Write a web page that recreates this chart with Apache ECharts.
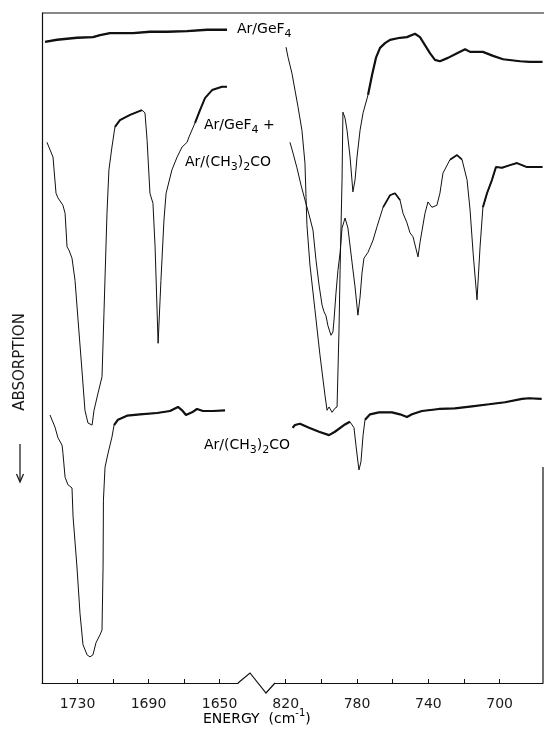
<!DOCTYPE html>
<html><head><meta charset="utf-8">
<script src="https://cdn.jsdelivr.net/npm/echarts@6/dist/echarts.min.js"></script>
<style>html,body{margin:0;padding:0;background:#fff}#c{width:544px;height:729px}</style>
</head><body><div id="c"></div>
<script>
// Wavenumber ticks (cm-1)
const leftTicks = [1730, 1710, 1690, 1670, 1650];
const leftLabels = [1730, 1690, 1650];
const rightTicks = [820, 800, 780, 760, 740, 720, 700];
const rightLabels = [820, 780, 740, 700];

// [wavenumber, signal (arb. units, 0..100)]
const gef4CO = [[1748.3,95.7],[1741.5,96.0],[1730.3,96.3],[1721.3,96.4],[1717.3,96.7],[1711.7,97.0],[1698.7,97.0],[1689.2,97.2],[1679.6,97.2],[1668.3,97.3],[1657.0,97.5],[1645.8,97.5]];

const gef4Low = [[819.8,94.9],[818.7,93.4],[816.5,91.0],[814.8,88.5],[813.1,86.0],[810.9,82.5],[809.2,77.6],[808.6,72.5],[808.1,68.4],[806.4,62.4],[803.6,55.7],[800.8,49.0],[798.0,43.0],[796.8,40.7],[795.7,41.2],[794.0,40.4],[792.4,41.0],[791.2,41.2],[790.1,52.7],[789.5,61.6],[788.4,75.1],[787.9,85.2],[786.7,84.3],[785.6,82.5],[783.9,78.5],[782.3,73.3],[781.1,75.1],[780.0,78.5],[778.3,82.5],[776.6,85.1],[773.8,87.8],[771.6,90.7],[769.4,93.3],[767.1,94.8],[764.3,95.5],[761.5,96.0],[755.9,96.3],[752.0,96.4],[747.5,96.9],[744.7,96.4],[741.9,95.2],[739.1,94.0],[736.3,93.0],[733.5,92.8],[729.0,93.3],[723.9,94.0],[719.4,94.6],[716.6,94.2],[709.4,94.2],[703.7,93.6],[698.1,93.1],[688.6,92.8],[683.0,92.7],[676.0,92.7]];

const mixCO = [[1747.2,80.7],[1743.8,78.5],[1742.1,73.1],[1741.0,72.4],[1738.2,71.3],[1737.0,70.1],[1735.9,65.1],[1734.8,64.6],[1733.1,63.4],[1731.4,60.1],[1729.7,54.2],[1727.5,46.7],[1725.8,40.7],[1724.1,38.8],[1721.8,38.5],[1720.7,40.7],[1718.4,43.3],[1716.2,45.7],[1715.1,55.2],[1713.4,70.1],[1712.3,76.6],[1710.6,80.0],[1708.9,83.0],[1706.1,84.0],[1700.4,84.8],[1693.7,85.5],[1692.0,85.1],[1690.8,81.0],[1689.2,73.1],[1687.5,71.6],[1686.3,65.1],[1684.6,50.7],[1683.0,60.1],[1681.3,69.1],[1680.1,73.1],[1676.8,76.6],[1673.9,78.5],[1671.1,80.0],[1668.3,80.7],[1667.2,81.5],[1663.8,83.6],[1661.0,85.5],[1658.2,87.3],[1654.2,88.5],[1648.6,89.0],[1645.8,89.0]];

const mixLow = [[817.6,80.7],[815.9,79.1],[813.7,76.9],[811.4,74.3],[809.2,72.1],[806.9,69.9],[804.7,67.6],[803.0,63.1],[801.3,59.4],[799.6,56.4],[798.5,55.4],[797.4,54.8],[796.3,53.3],[794.6,51.9],[793.5,52.4],[792.9,54.2],[791.8,58.2],[790.7,61.6],[789.5,64.2],[788.4,67.9],[786.7,69.4],[785.1,67.9],[782.8,62.8],[781.1,59.1],[779.5,54.9],[778.3,57.6],[777.2,61.2],[776.1,63.4],[773.8,64.3],[771.0,66.1],[768.8,68.1],[765.4,71.0],[761.5,72.8],[758.7,73.1],[755.9,72.1],[754.2,70.1],[752.0,68.7],[750.3,67.2],[748.6,66.6],[745.8,63.6],[744.7,65.7],[741.9,70.1],[740.2,71.8],[738.0,71.0],[735.2,71.3],[733.5,73.1],[731.8,76.1],[727.9,78.1],[723.9,78.8],[721.1,78.1],[718.3,75.1],[716.6,70.6],[714.9,64.2],[712.7,57.2],[711.0,65.1],[709.4,71.0],[707.1,73.1],[704.3,75.1],[702.1,77.0],[698.7,76.9],[694.2,77.3],[690.3,77.6],[684.7,77.0],[676.0,77.0]];

const acetoneCO = [[1745.5,40.0],[1742.7,38.2],[1741.0,36.6],[1738.7,35.5],[1738.2,34.3],[1737.0,30.7],[1735.4,29.6],[1733.1,29.1],[1732.5,24.8],[1730.3,17.3],[1728.6,10.4],[1726.9,5.7],[1724.6,4.2],[1723.0,3.9],[1721.3,4.2],[1719.6,6.0],[1717.3,7.2],[1716.2,7.9],[1715.6,17.3],[1715.4,27.3],[1714.5,32.2],[1712.8,34.3],[1710.6,36.7],[1709.4,38.5],[1707.2,39.3],[1702.1,39.9],[1694.8,40.1],[1685.2,40.3],[1677.9,40.6],[1673.4,41.2],[1671.1,40.7],[1668.9,40.0],[1665.5,40.4],[1662.7,40.9],[1659.3,40.6],[1653.7,40.6],[1646.9,40.7]];

const acetoneLow = [[816.1,38.1],[814.8,38.5],[812.0,38.7],[806.9,38.1],[801.3,37.5],[795.7,37.0],[792.4,37.5],[787.3,38.5],[784.0,39.0],[781.7,38.1],[780.6,35.5],[779.5,33.0],[778.9,31.8],[777.8,33.0],[776.6,37.0],[775.5,39.3],[772.7,40.1],[767.7,40.4],[760.4,40.4],[755.9,40.1],[752.0,39.7],[749.2,40.1],[743.6,40.6],[734.0,40.9],[725.1,41.0],[715.5,41.3],[706.0,41.6],[697.0,41.9],[687.5,42.4],[683.6,42.5],[676.5,42.4]];

const INK = '#111';
const FONT = 'DejaVu Sans';

function seg(data, lo, hi) { return data.filter(p => p[0] >= lo && p[0] <= hi); }
function line(data, g, w) {
  return { type: 'line', xAxisIndex: g, yAxisIndex: g, data: data, showSymbol: false, symbol: 'none',
           lineStyle: { color: INK, width: w }, itemStyle: { color: INK }, silent: true, animation: false };
}

const series = [
  line(gef4CO, 0, 1.1), line(mixCO, 0, 1.0), line(acetoneCO, 0, 1.0),
  line(gef4Low, 1, 1.0), line(mixLow, 1, 1.0), line(acetoneLow, 1, 1.0),
  // heavier (noisy) trace portions
  line(seg(gef4CO, 1640, 1750), 0, 2.4),
  line(seg(mixCO, 1693, 1709), 0, 2.0),
  line(seg(mixCO, 1645, 1664), 0, 2.0),
  line(seg(acetoneCO, 1645, 1710), 0, 2.2),
  line(seg(gef4Low, 676, 774), 1, 2.2),
  line(seg(mixLow, 676, 710), 1, 2.0),
  line(seg(mixLow, 719, 730), 1, 1.7),
  line(seg(mixLow, 755, 766), 1, 1.7),
  line(seg(acetoneLow, 676, 776.5), 1, 2.2),
  line(seg(acetoneLow, 782, 817), 1, 2.2)
];

function xAx(g, min, max, ticks, labels) {
  return { type: 'value', gridIndex: g, min: min, max: max, inverse: true,
    axisLine: { show: true, onZero: false, lineStyle: { color: INK, width: 1.2 } },
    axisTick: { show: true, inside: true, length: 4, customValues: ticks, lineStyle: { color: INK, width: 1 } },
    axisLabel: { show: true, customValues: labels, margin: 14, fontSize: 14, color: '#1a1a1a', fontFamily: FONT,
                 formatter: function (v) { return String(Math.round(v)); } },
    splitLine: { show: false } };
}

const chart = echarts.init(document.getElementById('c'), null, { renderer: 'canvas' });
const richN = { fontSize: 14, lineHeight: 22, fontFamily: FONT, color: '#1a1a1a' };
const richS = { fontSize: 11, lineHeight: 12, fontFamily: FONT, color: '#1a1a1a', verticalAlign: 'bottom' };
const richU = { fontSize: 10, lineHeight: 12, fontFamily: FONT, color: '#1a1a1a', verticalAlign: 'top' };
function label(x, y, text) {
  return { type: 'text', silent: true, style: { x: x, y: y, text: text, verticalAlign: 'middle', align: 'left',
           rich: { n: richN, s: richS, u: richU } } };
}

chart.setOption({
  animation: false,
  backgroundColor: '#fff',
  grid: [
    { left: 42, top: 13, width: 196, height: 670, containLabel: false },
    { left: 275, top: 13, width: 268, height: 670, containLabel: false }
  ],
  xAxis: [ xAx(0, 1639.6, 1750, leftTicks, leftLabels), xAx(1, 675.7, 826, rightTicks, rightLabels) ],
  yAxis: [
    { type: 'value', gridIndex: 0, min: 0, max: 100, axisLine: { show: true, lineStyle: { color: INK, width: 1.2 } },
      axisTick: { show: false }, axisLabel: { show: false }, splitLine: { show: false } },
    { type: 'value', gridIndex: 1, min: 0, max: 100, show: false, splitLine: { show: false } }
  ],
  series: series,
  graphic: [
    { type: 'line', silent: true, shape: { x1: 42, y1: 13, x2: 544, y2: 13 }, style: { stroke: INK, lineWidth: 1 } },
    { type: 'line', silent: true, shape: { x1: 543, y1: 467, x2: 543, y2: 683 }, style: { stroke: INK, lineWidth: 1.2 } },
    { type: 'polyline', silent: true, shape: { points: [[238, 683], [250, 673], [266, 693], [275, 683]] }, style: { stroke: INK, lineWidth: 1.2, fill: null } },
    label(237, 29, '{n|Ar/GeF}{s|4}'),
    label(204, 125, '{n|Ar/GeF}{s|4}{n| +}'),
    label(185, 162, '{n|Ar/(CH}{s|3}{n|)}{s|2}{n|CO}'),
    label(204, 445, '{n|Ar/(CH}{s|3}{n|)}{s|2}{n|CO}'),
    label(203, 719, '{n|ENERGY  (cm}{u|-1}{n|)}'),
    { type: 'text', silent: true, rotation: Math.PI / 2, x: 20, y: 362,
      style: { text: 'ABSORPTION', fontSize: 15, fontFamily: FONT, fill: '#1a1a1a', align: 'center', verticalAlign: 'middle' } },
    { type: 'line', silent: true, shape: { x1: 20, y1: 444, x2: 20, y2: 481 }, style: { stroke: INK, lineWidth: 1.2 } },
    { type: 'polyline', silent: true, shape: { points: [[16.5, 474], [20, 482], [23.5, 474]] }, style: { stroke: INK, lineWidth: 1.2, fill: null } }
  ]
});
</script>
</body></html>
